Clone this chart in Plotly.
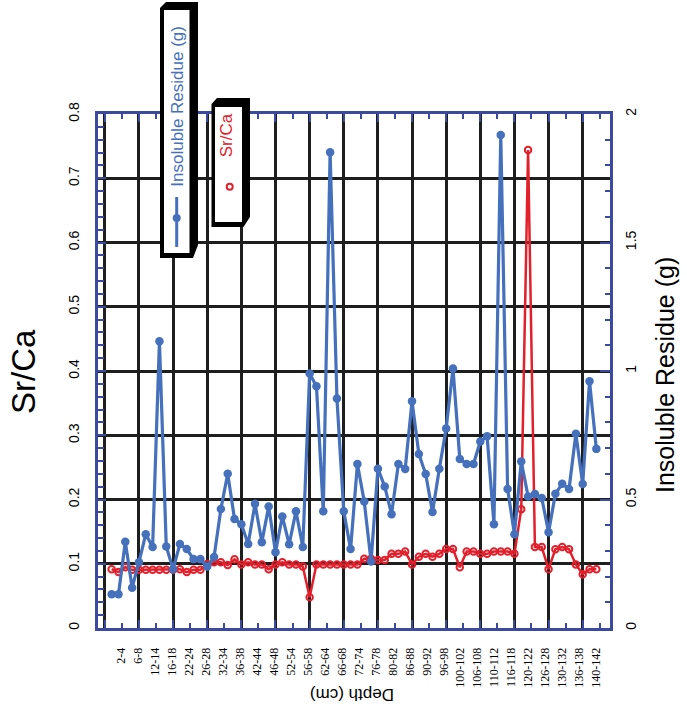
import numpy as np
import plotly.graph_objects as go

# ---------------- data ----------------
sample_index = list(range(1, 73))

insoluble_residue = [
    0.131, 0.131, 0.336, 0.157, 0.256, 0.365, 0.315, 1.116, 0.317, 0.229,
    0.327, 0.307, 0.268, 0.268, 0.239, 0.276, 0.463, 0.600, 0.424, 0.404,
    0.327, 0.483, 0.334, 0.473, 0.295, 0.434, 0.326, 0.454, 0.315, 0.990,
    0.941, 0.454, 1.851, 0.893, 0.454, 0.307, 0.638, 0.492, 0.259, 0.620,
    0.551, 0.443, 0.638, 0.619, 0.882, 0.677, 0.599, 0.451, 0.620, 0.776,
    1.010, 0.658, 0.638, 0.638, 0.726, 0.746, 0.404, 1.918, 0.541, 0.365,
    0.648, 0.512, 0.521, 0.506, 0.373, 0.522, 0.561, 0.541, 0.756, 0.560,
    0.960, 0.697,
]

sr_ca = [
    0.0915, 0.087, 0.0947, 0.0905, 0.0905, 0.0905, 0.0905, 0.0905, 0.0905, 0.0905,
    0.0915, 0.087, 0.0905, 0.0905, 0.0998, 0.1024, 0.1024, 0.098, 0.107, 0.099,
    0.1024, 0.099, 0.099, 0.0915, 0.099, 0.1024, 0.099, 0.099, 0.0956, 0.0478,
    0.099, 0.099, 0.099, 0.099, 0.099, 0.099, 0.099, 0.1076, 0.1076, 0.106,
    0.106, 0.1154, 0.1154, 0.119, 0.099, 0.111, 0.1154, 0.111, 0.1154, 0.123,
    0.123, 0.0946, 0.119, 0.119, 0.1154, 0.1154, 0.119, 0.119, 0.119, 0.1154,
    0.185, 0.744, 0.126, 0.126, 0.0915, 0.1227, 0.126, 0.1227, 0.099, 0.0837,
    0.0915, 0.0915,
]

depth_labels = [
    "2-4", "6-8", "12-14", "16-18", "22-24", "26-28", "32-34", "36-38",
    "42-44", "46-48", "52-54", "56-58", "62-64", "66-68", "72-74", "76-78",
    "80-82", "86-88", "90-92", "96-98", "100-102", "106-108", "110-112",
    "116-118", "120-122", "126-128", "130-132", "136-138", "140-142",
]

# ---------------- style ----------------
W, H = 687, 709
L, R, T, B = 98, 77, 114, 81
PW, PH = W - L - R, H - T - B

FRAME = "#3b4a9e"
BLUE = "#4570bb"
RED = "#e2202c"
GRID = "#1e1e1e"
SANS = "Liberation Sans, Arial, sans-serif"
SERIF = "Liberation Serif, Times New Roman, serif"

label_pos = np.linspace(2.4, 72.0, len(depth_labels))


def px(x):
    return (x - L) / PW


def py(y):
    return (H - B - y) / PH


fig = go.Figure()

fig.add_trace(go.Scatter(
    x=sample_index, y=sr_ca, name="Sr/Ca", xaxis="x", yaxis="y",
    mode="lines+markers",
    line=dict(color=RED, width=2.5),
    marker=dict(symbol="circle-open", size=6.5, color=RED, line=dict(width=2)),
    showlegend=False,
))

fig.add_trace(go.Scatter(
    x=sample_index, y=insoluble_residue, name="Insoluble Residue (g)",
    xaxis="x2", yaxis="y2",
    mode="lines+markers",
    line=dict(color=BLUE, width=3.2),
    marker=dict(symbol="circle", size=8.5, color=BLUE),
    showlegend=False,
))

xr = [-1, 74]
fig.update_layout(
    width=W, height=H,
    margin=dict(l=L, r=R, t=T, b=B),
    paper_bgcolor="white", plot_bgcolor="white",
    showlegend=False,
    xaxis=dict(
        range=xr, tickmode="array", tickvals=label_pos, ticktext=depth_labels,
        ticks="", tickangle=-90, showgrid=False, zeroline=False,
        showline=True, linecolor=FRAME, linewidth=3, mirror=True,
        tickfont=dict(family=SERIF, size=12, color="black"),
        ticklabelstandoff=12,
    ),
    xaxis2=dict(
        range=xr, overlaying="x", anchor="y", side="bottom",
        tick0=0, dtick=5, ticks="inside", ticklen=8, tickwidth=2, tickcolor=FRAME,
        showticklabels=False, showgrid=True, gridcolor=GRID, gridwidth=2.5,
        zeroline=False, showline=True, linecolor=FRAME, linewidth=3, mirror="ticks",
        minor=dict(dtick=2.5, tick0=0, ticks="inside", ticklen=5, tickwidth=2,
                   tickcolor=FRAME, showgrid=False),
    ),
    yaxis=dict(
        range=[0, 0.8], dtick=0.1, tick0=0, ticks="inside", ticklen=8, tickwidth=2,
        tickcolor=FRAME, tickangle=-90, showgrid=True, gridcolor=GRID, gridwidth=2.5,
        zeroline=False, showline=True, linecolor=FRAME, linewidth=3,
        tickfont=dict(family=SANS, size=14, color="black"),
        minor=dict(dtick=0.02, tick0=0, ticks="inside", ticklen=6, tickwidth=2,
                   tickcolor=FRAME, showgrid=False),
        ticklabelstandoff=10,
    ),
    yaxis2=dict(
        range=[0, 2], dtick=0.5, tick0=0, overlaying="y", side="right", anchor="x",
        ticks="inside", ticklen=10, tickwidth=2, tickcolor=FRAME, tickangle=-90,
        showgrid=False, zeroline=False, showline=True, linecolor=FRAME, linewidth=3,
        tickfont=dict(family=SANS, size=14, color="black"),
        minor=dict(dtick=0.1, tick0=0, ticks="inside", ticklen=5, tickwidth=2,
                   tickcolor=FRAME, showgrid=False),
        ticklabelstandoff=6,
    ),
)

# ---------------- legend boxes (decoration) ----------------
def poly(points):
    return "M " + " L ".join(f"{px(a):.5f},{py(b):.5f}" for a, b in points) + " Z"


shapes = []
# box 1
shapes.append(dict(type="path", xref="paper", yref="paper",
                   path=poly([(160, 8), (166, 2), (198, 2), (198, 245), (193, 258), (160, 258)]),
                   fillcolor="black", line=dict(width=0)))
shapes.append(dict(type="rect", xref="paper", yref="paper",
                   x0=px(164), x1=px(189.5), y0=py(253), y1=py(10),
                   fillcolor="white", line=dict(width=0)))
# box 2
shapes.append(dict(type="path", xref="paper", yref="paper",
                   path=poly([(211.5, 104), (217, 98), (250, 98), (250, 217), (243.5, 227), (211.5, 227)]),
                   fillcolor="black", line=dict(width=0)))
shapes.append(dict(type="rect", xref="paper", yref="paper",
                   x0=px(215), x1=px(242), y0=py(222), y1=py(107),
                   fillcolor="white", line=dict(width=0)))
# legend symbols
shapes.append(dict(type="line", xref="paper", yref="paper",
                   x0=px(176.7), x1=px(176.7), y0=py(247), y1=py(197),
                   line=dict(color=BLUE, width=3)))
shapes.append(dict(type="circle", xref="paper", yref="paper",
                   x0=px(172.7), x1=px(180.7), y0=py(222), y1=py(214),
                   fillcolor=BLUE, line=dict(width=0)))
shapes.append(dict(type="circle", xref="paper", yref="paper",
                   x0=px(226.7), x1=px(232.7), y0=py(189.7), y1=py(183.7),
                   fillcolor="white", line=dict(color=RED, width=2)))
fig.update_layout(shapes=shapes)

annotations = [
    dict(text="Insoluble Residue (g)", x=px(176.7), y=py(106), textangle=-90,
         font=dict(family=SANS, size=17, color=BLUE)),
    dict(text="Sr/Ca", x=px(227.3), y=py(135), textangle=-90,
         font=dict(family=SANS, size=17, color=RED)),
    dict(text="Sr/Ca", x=px(23), y=py(372), textangle=-90,
         font=dict(family=SANS, size=33, color="black")),
    dict(text="Insoluble Residue (g)", x=px(665), y=py(375), textangle=-90,
         font=dict(family=SANS, size=25, color="black")),
    dict(text="Depth (cm)", x=px(352), y=py(695), textangle=180,
         font=dict(family=SANS, size=17, color="black")),
]
for a in annotations:
    a.update(xref="paper", yref="paper", showarrow=False, xanchor="center", yanchor="middle")
fig.update_layout(annotations=annotations)

fig.write_html("out.html")
